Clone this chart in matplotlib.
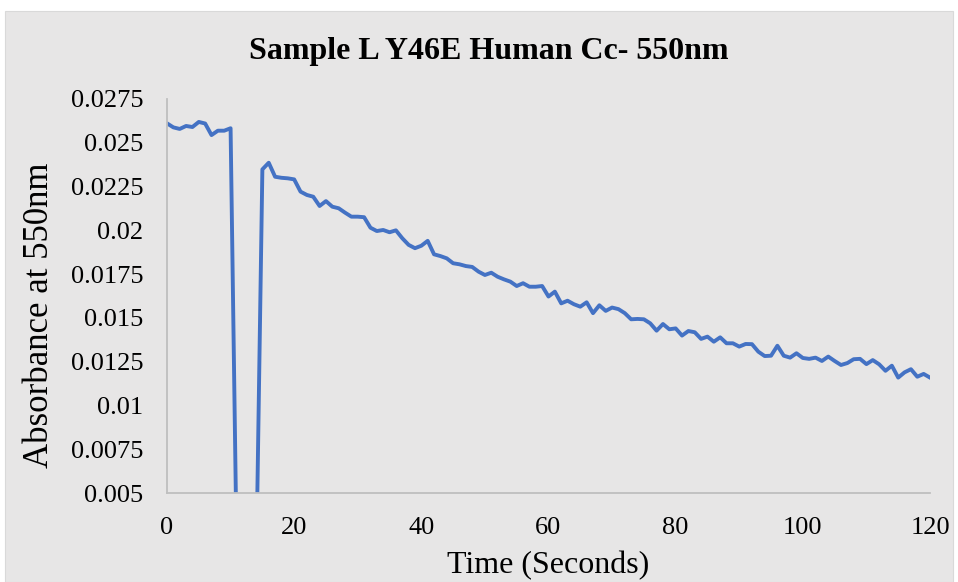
import matplotlib
matplotlib.use("Agg")
import matplotlib.pyplot as plt
from matplotlib.patches import Rectangle
import numpy as np

time_s = list(range(0, 121))
absorbance = [
    0.02611, 0.02588, 0.02579, 0.02596, 0.02590, 0.02619, 0.02610, 0.02544, 0.02569, 0.02569,
    0.02583, 0.00050, 0.00030, 0.00020, 0.00010, 0.02348, 0.02386, 0.02306, 0.02300, 0.02297,
    0.02291, 0.02221, 0.02202, 0.02192, 0.02139, 0.02167, 0.02135, 0.02126, 0.02101, 0.02078,
    0.02078, 0.02075, 0.02015, 0.01996, 0.02002, 0.01989, 0.02000, 0.01955, 0.01917, 0.01898,
    0.01912, 0.01940, 0.01863, 0.01853, 0.01840, 0.01812, 0.01806, 0.01796, 0.01791, 0.01764,
    0.01745, 0.01758, 0.01735, 0.01720, 0.01707, 0.01682, 0.01698, 0.01678, 0.01678, 0.01682,
    0.01622, 0.01650, 0.01583, 0.01598, 0.01578, 0.01564, 0.01589, 0.01527, 0.01572, 0.01540,
    0.01559, 0.01550, 0.01527, 0.01492, 0.01494, 0.01492, 0.01469, 0.01427, 0.01465, 0.01435,
    0.01440, 0.01399, 0.01425, 0.01418, 0.01380, 0.01393, 0.01364, 0.01389, 0.01355, 0.01355,
    0.01336, 0.01351, 0.01350, 0.01307, 0.01282, 0.01284, 0.01341, 0.01284, 0.01273, 0.01298,
    0.01271, 0.01266, 0.01273, 0.01254, 0.01279, 0.01254, 0.01231, 0.01242, 0.01264, 0.01266,
    0.01236, 0.01259, 0.01235, 0.01198, 0.01227, 0.01159, 0.01189, 0.01207, 0.01164, 0.01180,
    0.01159,
]
y_ticks = [0.005, 0.0075, 0.01, 0.0125, 0.015, 0.0175, 0.02, 0.0225, 0.025, 0.0275]
y_tick_labels = ["0.005", "0.0075", "0.01", "0.0125", "0.015", "0.0175", "0.02", "0.0225", "0.025", "0.0275"]
x_ticks = [0, 20, 40, 60, 80, 100, 120]

title = "Sample L Y46E Human Cc- 550nm"
xlabel = "Time (Seconds)"
ylabel = "Absorbance at 550nm"

plt.rcParams['font.family'] = ['Liberation Serif', 'DejaVu Serif']

W, H = 958, 582
fig = plt.figure(figsize=(W / 100, H / 100), dpi=100, facecolor='white')
bg = '#E7E6E6'
fig.patches.append(Rectangle((5 / W, 0), (953 - 5) / W, (H - 11) / H, transform=fig.transFigure,
                             facecolor=bg, edgecolor='#D9D9D9', lw=0.8, zorder=-5))

ax = fig.add_axes([167 / W, (H - 493) / H, (930 - 167) / W, (493 - 99) / H])
ax.set_zorder(2)
ax.set_facecolor(bg)
ax.plot(time_s, absorbance, color='#4472C4', lw=2.8, solid_joinstyle='round')
ax.set_xlim(0, 120)
ax.set_ylim(0.005, 0.0275)
ax.set_xticks(x_ticks)
ax.set_xticklabels([str(v) for v in x_ticks])
ax.set_yticks(y_ticks)
ax.set_yticklabels(y_tick_labels)
ax.tick_params(length=0, labelsize=19, colors='black')
ax.tick_params(axis='y', pad=17)
ax.tick_params(axis='x', pad=17)
for s in ['top', 'right']:
    ax.spines[s].set_visible(False)
for s in ['left', 'bottom']:
    ax.spines[s].set_color('#BFBFBF')
    ax.spines[s].set_linewidth(1.3)

fig.text(489 / W, 1 - 52 / H, title, ha='center', va='center', fontsize=23, fontweight='bold')
fig.text(548 / W, 1 - 566 / H, xlabel, ha='center', va='center', fontsize=23)
fig.text(40 / W, 1 - 315 / H, ylabel, ha='center', va='center', fontsize=25, rotation=90)

fig.savefig('out.png', dpi=100, facecolor='white')
